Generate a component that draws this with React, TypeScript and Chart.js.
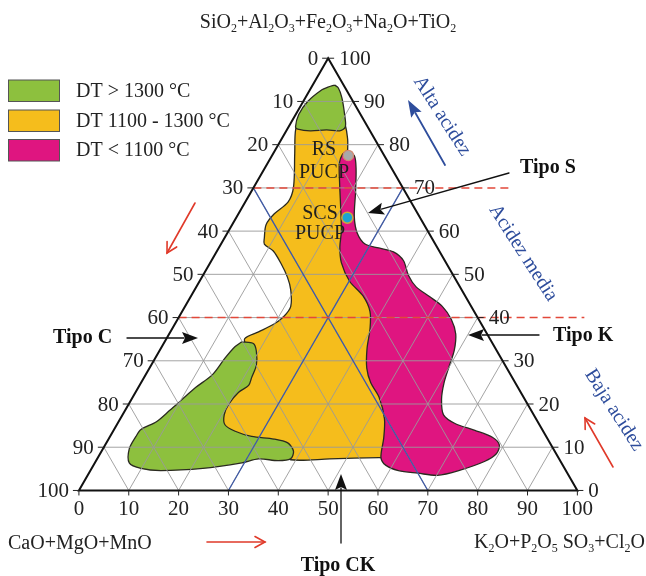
import React, { useEffect, useRef } from 'react';
import { Chart, registerables } from 'chart.js';
Chart.register(...registerables);

// Ternary compositions: [K2O+P2O5+SO3+Cl2O %, SiO2+Al2O3+Fe2O3+Na2O+TiO2 %]
type TP = [number, number];

const greenTop: TP[] = [
  [4.4, 93.8], [5.5, 93.1], [7.3, 90.9], [9.8, 87.0], [11.4, 84.1], [10.7, 83.2], [8.0, 83.4],
  [4.8, 83.2], [2.1, 83.6], [1.4, 84.1], [0.6, 87.0], [0.9, 90.0], [2.4, 92.7], [3.3, 93.3],
];

const yellowRegion: TP[] = [
  [1.9, 85.2], [7.4, 85.9], [10.5, 85.2], [13.2, 81.4], [14.9, 78.0], [20.7, 66.7], [26.6, 55.4],
  [31.3, 49.8], [37.1, 44.1], [41.5, 37.4], [48.1, 26.1], [55.2, 17.0], [60.3, 7.6], [56.4, 7.6],
  [46.7, 7.3], [38.9, 7.1], [37.2, 8.7], [31.7, 9.8], [26.0, 11.4], [19.3, 17.0], [18.0, 21.6],
  [18.1, 27.2], [17.5, 32.4], [15.7, 35.1], [17.7, 36.7], [19.9, 38.5], [21.0, 40.3], [21.2, 42.6],
  [19.3, 46.4], [17.2, 49.3], [14.3, 52.5], [11.3, 55.4], [8.7, 57.0], [8.0, 58.4], [6.8, 61.5],
  [7.2, 64.0], [8.6, 66.7], [8.0, 70.1], [4.3, 78.0], [1.7, 83.6],
];

const greenBottom: TP[] = [
  [15.5, 34.4], [18.0, 34.0], [19.5, 32.2], [21.1, 29.0], [21.6, 26.1], [21.9, 24.3], [20.7, 22.7],
  [20.1, 20.0], [20.4, 17.5], [21.7, 15.2], [24.5, 13.7], [28.4, 12.5], [33.2, 11.9], [36.4, 11.0],
  [38.5, 9.1], [38.8, 7.3], [36.5, 6.9], [32.4, 7.3], [29.5, 6.4], [22.3, 5.1], [14.1, 4.6],
  [9.9, 5.1], [6.9, 6.4], [5.3, 9.6], [5.2, 12.5], [5.4, 14.1], [7.6, 15.9], [9.0, 18.6],
  [10.1, 20.9], [11.5, 23.8], [13.4, 26.8], [14.0, 30.6], [14.7, 33.3],
];

const magentaRegion: TP[] = [
  [14.5, 78.7], [16.5, 77.5], [18.3, 74.6], [21.0, 69.0], [23.6, 63.3], [26.1, 59.5], [28.9, 57.0],
  [32.1, 56.1], [35.5, 55.2], [38.5, 53.2], [41.2, 49.8], [44.1, 47.1], [48.0, 44.8], [51.6, 42.6],
  [54.9, 39.6], [57.5, 36.2], [59.1, 32.4], [59.9, 28.8], [60.8, 24.9], [62.2, 21.1], [64.4, 17.5],
  [67.7, 15.5], [72.5, 13.9], [76.8, 12.3], [79.1, 10.5], [79.5, 8.5], [78.0, 6.7], [73.9, 4.6],
  [70.2, 3.5], [66.0, 4.0], [61.8, 4.6], [58.7, 5.8], [56.8, 7.6], [55.1, 12.1], [53.0, 16.6],
  [49.4, 21.6], [46.1, 24.9], [43.6, 28.3], [41.4, 32.8], [39.7, 37.4], [37.7, 41.4], [34.5, 45.0],
  [30.1, 48.4], [26.3, 52.7], [24.2, 56.3], [22.7, 59.9], [20.3, 64.5], [16.7, 71.2], [14.4, 75.7],
  [14.0, 77.8],
];

const sampleRS: TP[] = [[15.3, 77.5]];
const sampleSCS: TP[] = [[22.3, 63.1]];

const gridSteps = [10, 20, 30, 40, 50, 60, 70, 80, 90];
const tickValues = [0, 10, 20, 30, 40, 50, 60, 70, 80, 90, 100];
const dashedLevels = [70, 40];
const dashedEnds = [86.3, 101.4];
const acidLimit = 70;

const legendLabels = ['DT > 1300 °C', 'DT 1100 - 1300 °C', 'DT < 1100 °C'];

const GREEN = '#8dc03e';
const YELLOW = '#f5bd1c';
const MAGENTA = '#df1580';
const OUTLINE = '#2a2a20';
const SERIF = '"Liberation Serif", "DejaVu Serif", serif';

const toXY = (pts: TP[], close = true) => {
  const c = close ? pts.concat([pts[0]]) : pts;
  return c.map(([k, s]) => ({ x: k + s / 2, y: s }));
};

function richText(ctx: CanvasRenderingContext2D, str: string, x: number, y: number, align: 'left' | 'center', size: number) {
  const parts: [string, boolean][] = [];
  let buf = '';
  for (let i = 0; i < str.length; i++) {
    if (str[i] === '_') {
      if (buf) parts.push([buf, false]);
      buf = '';
      parts.push([str[i + 1], true]);
      i++;
    } else buf += str[i];
  }
  if (buf) parts.push([buf, false]);
  const main = `${size}px ${SERIF}`;
  const sub = `${Math.round(size * 0.62)}px ${SERIF}`;
  let w = 0;
  for (const [t, s] of parts) { ctx.font = s ? sub : main; w += ctx.measureText(t).width; }
  let cx = align === 'center' ? x - w / 2 : x;
  ctx.textAlign = 'left';
  ctx.textBaseline = 'alphabetic';
  for (const [t, s] of parts) {
    ctx.font = s ? sub : main;
    ctx.fillText(t, cx, s ? y + size * 0.22 : y);
    cx += ctx.measureText(t).width;
  }
}

function arrow(ctx: CanvasRenderingContext2D, x1: number, y1: number, x2: number, y2: number, color: string, lw: number, headLen: number, headW: number, filled: boolean) {
  const a = Math.atan2(y2 - y1, x2 - x1);
  const bx = x2 - headLen * Math.cos(a), by = y2 - headLen * Math.sin(a);
  const px = -Math.sin(a) * headW / 2, py = Math.cos(a) * headW / 2;
  ctx.save();
  ctx.strokeStyle = color; ctx.fillStyle = color; ctx.lineWidth = lw; ctx.lineCap = 'round';
  ctx.beginPath(); ctx.moveTo(x1, y1); ctx.lineTo(filled ? bx + 2 * Math.cos(a) : x2, filled ? by + 2 * Math.sin(a) : y2); ctx.stroke();
  ctx.beginPath();
  if (filled) {
    ctx.moveTo(x2, y2); ctx.lineTo(bx + px, by + py);
    ctx.lineTo(bx + 3 * Math.cos(a), by + 3 * Math.sin(a));
    ctx.lineTo(bx - px, by - py); ctx.closePath(); ctx.fill();
  } else {
    ctx.moveTo(bx + px, by + py); ctx.lineTo(x2, y2); ctx.lineTo(bx - px, by - py); ctx.stroke();
  }
  ctx.restore();
}

function rotText(ctx: CanvasRenderingContext2D, t: string, x: number, y: number, ang: number) {
  ctx.save();
  ctx.translate(x, y); ctx.rotate(ang);
  ctx.textAlign = 'center'; ctx.textBaseline = 'middle';
  ctx.fillText(t, 0, 0);
  ctx.restore();
}

const overlayPlugin = {
  id: 'ternaryOverlay',
  beforeDraw(chart: any) {
    const ctx = chart.ctx;
    ctx.save(); ctx.fillStyle = '#ffffff'; ctx.fillRect(0, 0, chart.width, chart.height); ctx.restore();
  },
  afterDatasetDraw(chart: any, args: any) {
    const ds = chart.data.datasets[args.index];
    if (ds.label !== legendLabels[2]) return;
    const ctx: CanvasRenderingContext2D = chart.ctx;
    const sx = chart.scales.x, sy = chart.scales.y;
    const P = (k: number, s: number): [number, number] => [sx.getPixelForValue(k + s / 2), sy.getPixelForValue(s)];
    const seg = (a: [number, number], b: [number, number]) => { ctx.beginPath(); ctx.moveTo(a[0], a[1]); ctx.lineTo(b[0], b[1]); ctx.stroke(); };
    ctx.save();
    ctx.strokeStyle = '#9a9a9a'; ctx.lineWidth = 0.9;
    for (const v of gridSteps) {
      seg(P(0, v), P(100 - v, v));
      seg(P(v, 0), P(v, 100 - v));
      seg(P(100 - v, 0), P(0, 100 - v));
    }
    // blue acidity limits
    ctx.strokeStyle = '#3f5aa6'; ctx.lineWidth = 1.3;
    seg(P(0, acidLimit), P(acidLimit, 0));
    seg(P(100 - acidLimit, acidLimit), P(100 - acidLimit, 0));
    // red dashed levels
    ctx.strokeStyle = '#e2483a'; ctx.lineWidth = 1.5; ctx.setLineDash([8, 5]);
    dashedLevels.forEach((lv, i) => {
      const a = P(0, lv);
      seg(a, [sx.getPixelForValue(dashedEnds[i]), a[1]]);
    });
    ctx.setLineDash([]);
    // triangle
    ctx.strokeStyle = '#111'; ctx.lineWidth = 2; ctx.lineJoin = 'miter';
    const A = P(0, 0), B = P(100, 0), C = P(0, 100);
    ctx.beginPath(); ctx.moveTo(A[0], A[1]); ctx.lineTo(B[0], B[1]); ctx.lineTo(C[0], C[1]); ctx.closePath(); ctx.stroke();
    // ticks + labels
    ctx.lineWidth = 1; ctx.strokeStyle = '#222'; ctx.fillStyle = '#222';
    ctx.font = `21px ${SERIF}`;
    for (const v of tickValues) {
      const l = P(0, 100 - v);
      seg([l[0] - 6, l[1]], l);
      ctx.textAlign = 'right'; ctx.textBaseline = 'middle';
      ctx.fillText(String(v), l[0] - 10, l[1] + 1);
      const r = P(100 - v, v);
      seg(r, [r[0] + 6, r[1]]);
      ctx.textAlign = 'left';
      ctx.fillText(String(v), r[0] + 11, r[1] + 1);
      const b = P(v, 0);
      seg(b, [b[0], b[1] + 5]);
      ctx.textAlign = 'center'; ctx.textBaseline = 'top';
      ctx.fillText(String(v), b[0], b[1] + 9);
    }
    ctx.restore();
  },
  afterDraw(chart: any) {
    const ctx: CanvasRenderingContext2D = chart.ctx;
    ctx.save();
    ctx.fillStyle = '#222';
    // axis titles
    richText(ctx, 'SiO_2+Al_2O_3+Fe_2O_3+Na_2O+TiO_2', 328, 28, 'center', 20);
    richText(ctx, 'CaO+MgO+MnO', 8, 549, 'left', 20);
    richText(ctx, 'K_2O+P_2O_5 SO_3+Cl_2O', 474, 548, 'left', 20);
    // legend
    const cols = [GREEN, YELLOW, MAGENTA];
    const ys = [80, 110, 139.5];
    cols.forEach((c, i) => {
      ctx.fillStyle = c; ctx.fillRect(8.5, ys[i], 51, 21.5);
      ctx.strokeStyle = '#555'; ctx.lineWidth = 1; ctx.strokeRect(8.5, ys[i], 51, 21.5);
      ctx.fillStyle = '#222'; ctx.font = `20px ${SERIF}`; ctx.textAlign = 'left'; ctx.textBaseline = 'middle';
      ctx.fillText(legendLabels[i], 76, ys[i] + 11.5);
    });
    // sample labels
    ctx.font = `20px ${SERIF}`; ctx.textAlign = 'center'; ctx.textBaseline = 'middle'; ctx.fillStyle = '#1e1e1e';
    ctx.fillText('RS', 324, 150);
    ctx.fillText('PUCP', 324, 173);
    ctx.fillText('SCS', 320, 214);
    ctx.fillText('PUCP', 320, 234);
    // type labels
    ctx.font = `bold 20px ${SERIF}`; ctx.fillStyle = '#111'; ctx.textAlign = 'left';
    ctx.fillText('Tipo S', 520, 168);
    ctx.fillText('Tipo C', 53, 338);
    ctx.fillText('Tipo K', 553, 336);
    ctx.textAlign = 'center';
    ctx.fillText('Tipo CK', 338, 566);
    arrow(ctx, 509, 173, 368, 213, '#111', 1.3, 16, 12, true);
    arrow(ctx, 127, 338, 198, 338, '#111', 1.3, 16, 12, true);
    arrow(ctx, 539, 335, 468, 335, '#111', 1.3, 16, 12, true);
    arrow(ctx, 341, 543, 341, 474, '#111', 1.3, 16, 12, true);
    // acidity labels
    ctx.font = `20px ${SERIF}`; ctx.fillStyle = '#2e4d9c';
    rotText(ctx, 'Alta acidez', 442, 116, 1.0);
    rotText(ctx, 'Acidez media', 523, 253, 1.0);
    rotText(ctx, 'Baja acidez', 614, 410, 1.0);
    arrow(ctx, 445, 165, 408, 100, '#2e4d9c', 1.8, 17, 12, true);
    // red arrows
    arrow(ctx, 195, 203, 167, 253, '#e03a2a', 1.6, 10, 11, false);
    arrow(ctx, 207, 542, 265, 542, '#e03a2a', 1.6, 10, 11, false);
    arrow(ctx, 613, 467, 585, 418, '#e03a2a', 1.6, 10, 11, false);
    ctx.restore();
  },
};

const X_MIN = -73.5 / 5.095;
const X_MAX = (646 - 73.5) / 5.095;
const Y_MAX = 495.5 / 4.43;
const Y_MIN = Y_MAX - 576 / 4.43;

export default function App() {
  const ref = useRef<HTMLCanvasElement | null>(null);
  useEffect(() => {
    if (!ref.current) return;
    const region = (label: string, pts: TP[], color: string, order: number) => ({
      label, data: toXY(pts), showLine: true, fill: 'shape', backgroundColor: color,
      borderColor: OUTLINE, borderWidth: 1.3, pointRadius: 0, tension: 0.3, order,
    });
    const chart = new Chart(ref.current, {
      type: 'scatter',
      data: {
        datasets: [
          region(legendLabels[1], yellowRegion, YELLOW, 6),
          region(legendLabels[0], greenTop, GREEN, 5),
          region(legendLabels[0] + ' b', greenBottom, GREEN, 4),
          region(legendLabels[2], magentaRegion, MAGENTA, 3),
          {
            label: 'RS PUCP', data: toXY(sampleRS, false), showLine: false, order: 1,
            pointRadius: 5.2, pointBackgroundColor: '#a9a9a9', pointBorderColor: '#d58a70', pointBorderWidth: 1.3,
          },
          {
            label: 'SCS PUCP', data: toXY(sampleSCS, false), showLine: false, order: 1,
            pointRadius: 5.5, pointBackgroundColor: '#1ba3d3', pointBorderColor: '#c9a93a', pointBorderWidth: 1.5,
          },
        ] as any,
      },
      options: {
        responsive: false,
        animation: false,
        events: [],
        layout: { padding: 0 },
        plugins: { legend: { display: false }, tooltip: { enabled: false }, title: { display: false } },
        scales: {
          x: { type: 'linear', min: X_MIN, max: X_MAX, display: false },
          y: { type: 'linear', min: Y_MIN, max: Y_MAX, display: false },
        },
      } as any,
      plugins: [overlayPlugin as any],
    });
    return () => chart.destroy();
  }, []);
  return (
    <div style={{ position: 'absolute', left: 0, top: 0, width: 646, height: 576, background: '#fff' }}>
      <canvas ref={ref} width={646} height={576} style={{ display: 'block' }} />
    </div>
  );
}
